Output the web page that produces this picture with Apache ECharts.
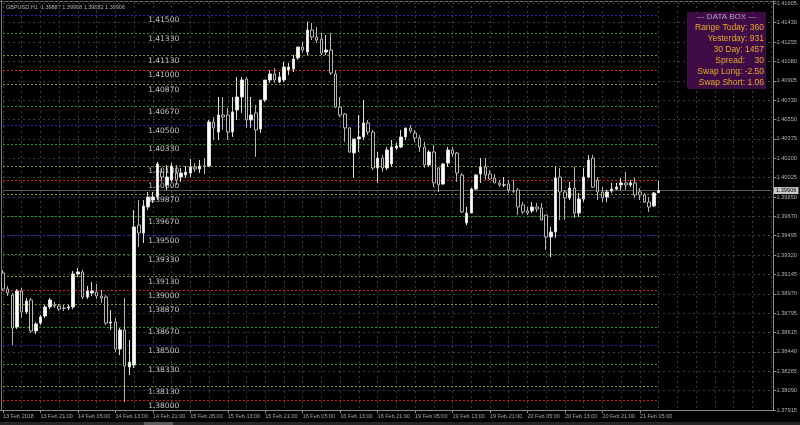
<!DOCTYPE html>
<html><head><meta charset="utf-8">
<script src="https://cdn.jsdelivr.net/npm/echarts/dist/echarts.min.js"></script>
<style>html,body{margin:0;padding:0;background:#000;}#c{width:800px;height:425px;}</style>
</head><body><div id="c"></div>
<script>
const opens = [1.39158,1.39013,1.38958,1.38668,1.38995,1.38804,1.38913,1.38632,1.38704,1.38768,
1.38850,1.38868,1.38859,1.38840,1.38840,1.38850,1.39149,1.39167,1.38940,1.38977,
1.38986,1.38949,1.38940,1.38704,1.38713,1.38468,1.38641,1.38305,1.38323,1.39593,
1.39521,1.39757,1.39820,1.39847,1.40074,1.39957,1.40002,1.40065,1.40029,1.40047,
1.40065,1.40120,1.40102,1.40129,1.40129,1.40528,1.40437,1.40592,1.40592,1.40437,
1.40637,1.40755,1.40918,1.40546,1.40610,1.40465,1.40728,1.40909,1.40964,1.40891,
1.40909,1.41000,1.41009,1.41109,1.41209,1.41163,1.41363,1.41299,1.41281,1.41163,
1.41181,1.40964,1.40664,1.40601,1.40474,1.40247,1.40374,1.40392,1.40519,1.40437,
1.40111,1.40201,1.40111,1.40147,1.40292,1.40301,1.40392,1.40474,1.40428,1.40383,
1.40301,1.40138,1.40256,1.40111,1.39966,1.40156,1.40274,1.40247,1.40047,1.39612,
1.39702,1.39920,1.40056,1.40120,1.40056,1.40020,1.39975,1.39957,1.39966,1.39902,
1.39911,1.39775,1.39721,1.39721,1.39757,1.39748,1.39684,1.39485,1.39530,1.40029,
1.39893,1.39839,1.39929,1.39702,1.39830,1.40029,1.40201,1.40002,1.39893,1.39848,
1.39902,1.39920,1.39957,1.39975,1.39957,1.39975,1.39893,1.39866,1.39802,1.39766,
1.39887];
const closes = [1.39013,1.38977,1.38659,1.38995,1.38804,1.38904,1.38632,1.38695,1.38759,1.38850,
1.38913,1.38859,1.38831,1.38836,1.38850,1.39149,1.39167,1.38940,1.38995,1.38995,
1.38949,1.38931,1.38704,1.38713,1.38468,1.38641,1.38314,1.38350,1.39575,1.39521,
1.39766,1.39847,1.39847,1.40147,1.40029,1.40029,1.40129,1.40002,1.40065,1.40074,
1.40120,1.40102,1.40129,1.40124,1.40528,1.40474,1.40592,1.40573,1.40437,1.40619,
1.40755,1.40909,1.40546,1.40592,1.40456,1.40728,1.40909,1.40964,1.40909,1.40936,
1.41027,1.41027,1.41100,1.41209,1.41181,1.41363,1.41299,1.41272,1.41154,1.41181,
1.40973,1.40664,1.40592,1.40474,1.40256,1.40374,1.40392,1.40519,1.40437,1.40111,
1.40201,1.40111,1.40274,1.40301,1.40310,1.40392,1.40474,1.40447,1.40383,1.40301,
1.40138,1.40256,1.39975,1.39957,1.40147,1.40274,1.40238,1.40065,1.39712,1.39702,
1.39920,1.40047,1.40120,1.40047,1.40011,1.39975,1.39957,1.39957,1.39911,1.39902,
1.39757,1.39712,1.39702,1.39757,1.39739,1.39639,1.39485,1.39530,1.40020,1.39893,
1.39839,1.39929,1.39702,1.39830,1.40029,1.40183,1.39938,1.39893,1.39839,1.39893,
1.39920,1.39938,1.39975,1.39957,1.39975,1.39866,1.39866,1.39802,1.39757,1.39884,
1.39906];
const highs = [1.39185,1.39040,1.38977,1.39013,1.39022,1.38931,1.38931,1.38713,1.38777,1.38868,
1.38931,1.38895,1.38877,1.38868,1.38868,1.39176,1.39203,1.39185,1.39040,1.39076,
1.39058,1.39004,1.38958,1.38822,1.38750,1.38659,1.38931,1.38550,1.39730,1.39820,
1.39820,1.39893,1.39893,1.40165,1.40111,1.40138,1.40156,1.40138,1.40111,1.40129,
1.40192,1.40156,1.40183,1.40201,1.40546,1.40573,1.40755,1.40755,1.40655,1.40755,
1.40936,1.40936,1.40936,1.40755,1.40682,1.40728,1.40909,1.41000,1.41018,1.40982,
1.41072,1.41063,1.41136,1.41209,1.41254,1.41439,1.41426,1.41390,1.41336,1.41317,
1.41336,1.41000,1.40755,1.40610,1.40483,1.40374,1.40592,1.40728,1.40546,1.40456,
1.40256,1.40229,1.40301,1.40365,1.40338,1.40456,1.40474,1.40501,1.40456,1.40410,
1.40347,1.40274,1.40319,1.40120,1.40156,1.40301,1.40301,1.40256,1.40065,1.39757,
1.39929,1.40056,1.40201,1.40201,1.40093,1.40056,1.40002,1.40029,1.40002,1.40002,
1.39929,1.39802,1.39757,1.39802,1.39793,1.39793,1.39684,1.39575,1.40120,1.40111,
1.39911,1.39984,1.40120,1.39884,1.40111,1.40229,1.40229,1.40029,1.39938,1.39911,
1.39975,1.39975,1.40020,1.40074,1.40002,1.40020,1.39929,1.39884,1.39848,1.39893,
1.39998];
const lows = [1.38995,1.38949,1.38505,1.38650,1.38750,1.38786,1.38614,1.38605,1.38686,1.38750,
1.38831,1.38840,1.38813,1.38813,1.38822,1.38831,1.39122,1.38922,1.38922,1.38949,
1.38922,1.38886,1.38686,1.38641,1.38441,1.38414,1.37988,1.38232,1.38296,1.39394,
1.39430,1.39730,1.39793,1.39820,1.39984,1.39911,1.39984,1.39957,1.39984,1.40020,
1.40029,1.40074,1.40065,1.40056,1.40120,1.40365,1.40365,1.40456,1.40365,1.40392,
1.40546,1.40610,1.40474,1.40474,1.40211,1.40428,1.40710,1.40882,1.40882,1.40882,
1.40891,1.40955,1.40982,1.41091,1.41154,1.41136,1.41272,1.41245,1.41136,1.41136,
1.40955,1.40655,1.40573,1.40347,1.40247,1.40021,1.40256,1.40365,1.40410,1.40093,
1.39974,1.40074,1.40093,1.40120,1.40274,1.40292,1.40365,1.40428,1.40347,1.40256,
1.40111,1.40120,1.39938,1.39893,1.39957,1.40120,1.40211,1.39984,1.39702,1.39593,
1.39702,1.39911,1.39975,1.40002,1.40002,1.39975,1.39938,1.39938,1.39884,1.39884,
1.39684,1.39693,1.39684,1.39702,1.39712,1.39639,1.39367,1.39303,1.39476,1.39639,
1.39639,1.39820,1.39657,1.39666,1.39802,1.40020,1.39929,1.39820,1.39802,1.39802,
1.39884,1.39911,1.39911,1.39911,1.39938,1.39839,1.39820,1.39793,1.39712,1.39757,
1.39882];

const xLabels = ['13 Feb 2018','13 Feb 21:00','14 Feb 05:00','14 Feb 13:00','14 Feb 21:00','15 Feb 05:00',
'15 Feb 13:00','15 Feb 21:00','16 Feb 05:00','16 Feb 13:00','16 Feb 21:00','19 Feb 05:00','19 Feb 13:00',
'19 Feb 21:00','20 Feb 05:00','20 Feb 13:00','20 Feb 21:00','21 Feb 05:00'];
const yTickLabels = ['1.37915','1.38090','1.38265','1.38440','1.38615','1.38795','1.38970','1.39145','1.39320',
'1.39495','1.39670','1.39850','1.40025','1.40200','1.40375','1.40550','1.40730','1.40905','1.41080','1.41255',
'1.41430','1.41605'];
const levels = [1.41500,1.41330,1.41130,1.41000,1.40870,1.40670,1.40500,1.40330,1.40130,1.40000,1.39870,
1.39670,1.39500,1.39330,1.39130,1.39000,1.38870,1.38670,1.38500,1.38330,1.38130,1.38000];
const currentPrice = 1.39906;
const titleText = 'GBPUSD,H1  1.39887 1.39998 1.39882 1.39906';
const boxTitle = '--- DATA BOX ---';
const boxLines = ['Range Today: 360','Yesterday: 931','30 Day: 1457','Spread:    30','Swap Long: -2.50','Swap Short: 1.06'];

const N_SLOTS = 165;
const yMin = 1.37915, yMax = 1.41626;
const tickStep = (1.41605 - 1.37915) / 21;

const cats = Array.from({length: N_SLOTS}, (_, i) => String(i));
const candles = opens.map((o, i) => [o, closes[i], lows[i], highs[i]]);
const lastIdx = opens.length - 1;

function levelColor(v) {
  const r = Math.round(v * 100000) % 1000;
  if (r === 500) return '#2424c0';
  if (r === 0) return '#d81c1c';
  if (r === 330 || r === 670) return '#1e9a1e';
  return '#8e8e14';
}

const levelLines = levels.map(v => [
  {coord: [0, v], lineStyle: {color: levelColor(v), type: [2, 2], width: 1}},
  {coord: [lastIdx, v]}
]);

const chart = echarts.init(document.getElementById('c'), null, {renderer: 'canvas'});
const labelInterval = i => i % 8 === 0 && i / 8 < xLabels.length;

chart.setOption({
  backgroundColor: '#000000',
  animation: false,
  grid: {left: 2.5, right: 28.2, top: 1, bottom: 15, containLabel: false},
  xAxis: {
    type: 'category', data: cats, boundaryGap: false,
    axisLine: {show: true, lineStyle: {color: '#8c8c8c', width: 1}},
    axisTick: {show: true, interval: labelInterval, length: 3, lineStyle: {color: '#8c8c8c'}},
    axisLabel: {show: true, interval: labelInterval, formatter: (v, i) => xLabels[i / 8] || '',
      align: 'left', fontSize: 5.5, fontFamily: 'Liberation Sans', color: '#a8a8a8', margin: 3},
    splitLine: {show: true, interval: i => i % 4 === 0, lineStyle: {color: '#3c3c3c', type: [2, 3], width: 1}}
  },
  yAxis: [
    {type: 'value', min: yMin, max: yMax, show: false, splitLine: {show: false}},
    {type: 'value', min: 0, max: (yMax - yMin) / tickStep, interval: 1, position: 'right', offset: 2.5,
      axisLine: {show: true, lineStyle: {color: '#8c8c8c', width: 1}},
      axisTick: {show: true, length: 3, lineStyle: {color: '#8c8c8c'}},
      axisLabel: {formatter: v => yTickLabels[v] || '', fontSize: 5.7, fontFamily: 'Liberation Sans',
        color: '#b0b0b0', margin: 3},
      splitLine: {show: true, lineStyle: {color: '#3c3c3c', type: [2, 3], width: 1}}
    }
  ],
  series: [
    {
      type: 'scatter', yAxisIndex: 0, z: 1, symbol: 'rect', symbolSize: 1, silent: true,
      data: levels.map(v => [31, v]),
      itemStyle: {color: 'rgba(0,0,0,0)'},
      label: {show: true, position: 'bottom', distance: 1, align: 'left', opacity: 1,
        formatter: p => p.value[1].toFixed(5), fontSize: 7.5, fontFamily: 'DejaVu Sans', color: '#c4c4c4'},
      markLine: {
        silent: true, symbol: 'none', animation: false,
        label: {show: false},
        data: levelLines.concat([[
          {coord: [0, currentPrice], lineStyle: {color: '#5c5c5c', type: 'solid', width: 1}},
          {coord: [N_SLOTS - 1, currentPrice], label: {show: true, position: 'end', distance: 3,
            formatter: currentPrice.toFixed(5), backgroundColor: '#c8c8c8', color: '#000', padding: [1, 2, 0, 2],
            fontSize: 5.7, fontFamily: 'Liberation Sans'}}
        ]])
      }
    },
    {
      type: 'candlestick', yAxisIndex: 0, z: 5, clip: false, barWidth: 3,
      data: candles,
      itemStyle: {color: '#ffffff', color0: '#000000', borderColor: '#dcdcdc', borderColor0: '#b4b4b4', borderWidth: 1}
    }
  ],
  graphic: [
    {type: 'line', shape: {x1: 0, y1: 1.5, x2: 774.5, y2: 1.5}, style: {stroke: '#707070', lineWidth: 1}, silent: true},
    {type: 'line', shape: {x1: 1.5, y1: 0, x2: 1.5, y2: 410}, style: {stroke: '#707070', lineWidth: 1}, silent: true},
    {type: 'line', shape: {x1: 0, y1: 410.5, x2: 774.5, y2: 410.5}, style: {stroke: '#8c8c8c', lineWidth: 1}, silent: true},
    {type: 'rect', shape: {x: 0, y: 422, width: 800, height: 3}, style: {fill: '#262626'}, silent: true},
    {type: 'rect', shape: {x: 144, y: 422, width: 29, height: 3}, style: {fill: '#5a5a5a'}, silent: true},
    {type: 'text', x: 6, y: 7, style: {text: titleText, fill: '#b4b4b4', font: '5.5px "Liberation Sans"', verticalAlign: 'middle'}, silent: true},
    {type: 'rect', shape: {x: 687, y: 12, width: 79, height: 77}, style: {fill: '#3e0b46'}, silent: true, z: 10},
    {type: 'text', x: 726.5, y: 17, z: 11, style: {text: boxTitle, fill: '#b8a8c4', font: '8px "Liberation Sans"', align: 'center', verticalAlign: 'middle'}, silent: true}
  ].concat(boxLines.map((t, k) => ({
    type: 'text', x: 764, y: 28 + 11 * k, z: 11,
    style: {text: t, fill: '#e8aa2a', font: '8.5px "Liberation Sans"', align: 'right', verticalAlign: 'middle'}, silent: true
  })))
});
</script></body></html>
